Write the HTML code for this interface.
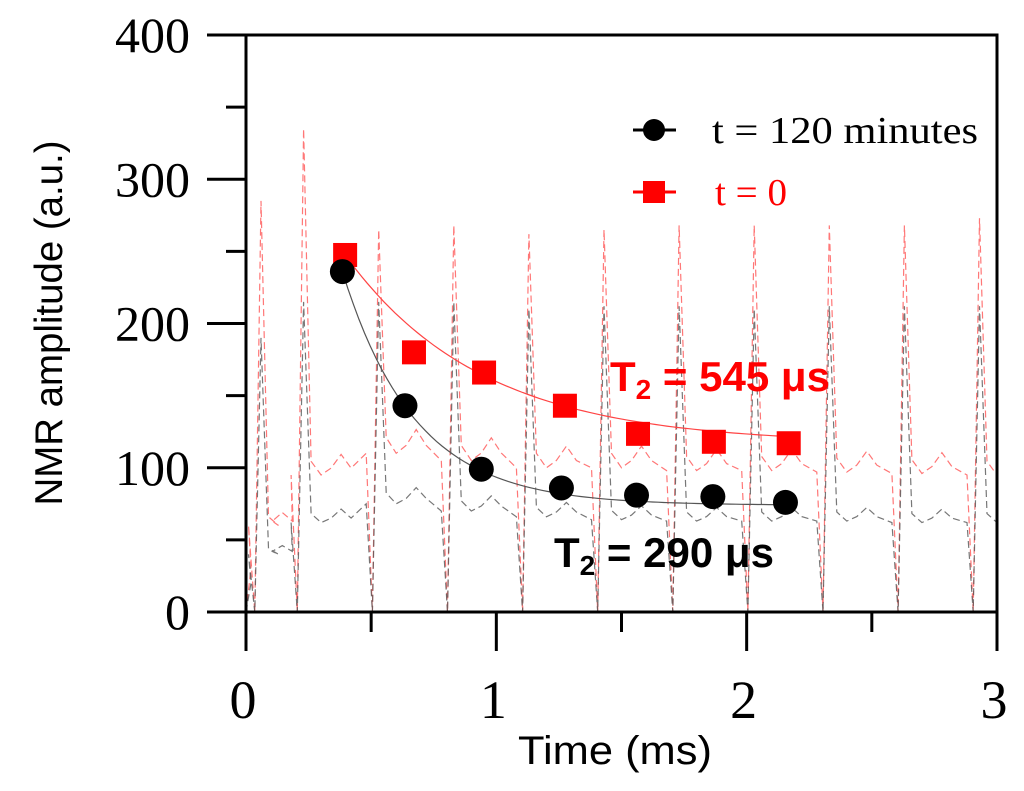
<!DOCTYPE html>
<html><head><meta charset="utf-8"><style>
body{margin:0;background:#fff;}
svg{display:block;}
</style></head><body>
<svg id="chart" width="1024" height="791" xmlns="http://www.w3.org/2000/svg">
<g id="echoes"></g>
<g id="fits"></g>
<g id="marks"></g>
<rect x="246" y="35" width="751" height="577" fill="none" stroke="#000" stroke-width="3"/>
<g id="axes"></g>
<text transform="translate(62,323) rotate(-90)" text-anchor="middle" font-family="Liberation Sans, sans-serif" font-size="39" textLength="365" lengthAdjust="spacingAndGlyphs">NMR amplitude (a.u.)</text>
<text x="615" y="764" text-anchor="middle" font-family="Liberation Sans, sans-serif" font-size="40" textLength="194" lengthAdjust="spacingAndGlyphs">Time (ms)</text>
<g>
<g>
<line x1="633" y1="130" x2="676" y2="130" stroke="#000" stroke-width="3"/>
<circle cx="654" cy="130" r="11" fill="#000"/>
<text x="712" y="143" font-family="Liberation Serif, serif" font-size="38" fill="#000" textLength="266" lengthAdjust="spacingAndGlyphs">t = 120 minutes</text>
</g>
<g>
<line x1="633" y1="192" x2="676" y2="192" stroke="#f00" stroke-width="3"/>
<rect x="643" y="181" width="22" height="22" fill="#f00"/>
<text x="715" y="205" font-family="Liberation Serif, serif" font-size="38" fill="#f00" textLength="72" lengthAdjust="spacingAndGlyphs">t = 0</text>
</g>
</g>
<text x="610" y="391" font-family="Liberation Sans, sans-serif" font-weight="bold" font-size="42" fill="#f00" textLength="220" lengthAdjust="spacingAndGlyphs">T<tspan font-size="28" dy="8">2</tspan><tspan dy="-8"> = 545 μs</tspan></text>
<text x="554" y="567" font-family="Liberation Sans, sans-serif" font-weight="bold" font-size="42" fill="#000" textLength="220" lengthAdjust="spacingAndGlyphs">T<tspan font-size="28" dy="8">2</tspan><tspan dy="-8"> = 290 μs</tspan></text>
</svg>
<script>
const xTicks=[0,1,2,3];
const yTicks=[0,100,200,300,400];
const redT=[0.396,0.671,0.951,1.274,1.566,1.869,2.168];
const redV=[247.5,180,166,143,123.5,118,117];
const blackT=[0.385,0.635,0.94,1.26,1.56,1.865,2.155];
const blackV=[236,143,99,86,81,80,76];
const spikeT=[0.06,0.23,0.53,0.83,1.13,1.43,1.73,2.03,2.33,2.63,2.93];
const redPeak=[285,335,265,268,262,265,268,268,268,268,273];
const blackPeak=[190,215,215,215,210,212,212,210,212,212,212];
const redBase=[60,95,110,105,100,100,98,98,97,96,95];
const blackBase=[40,62,75,70,66,64,63,63,63,62,62];
const redT2=0.545, blackT2=0.290;
const X=t=>246+t*250.33, Y=v=>612-v*1.4425;
const NS="http://www.w3.org/2000/svg";
function mk(tag,attrs,parent){const e=document.createElementNS(NS,tag);for(const k in attrs)e.setAttribute(k,attrs[k]);parent.appendChild(e);return e;}
const axes=document.getElementById('axes');
for(let v=0;v<=400;v+=50){const major=v%100===0;const t=mk('line',{x1:major?207:226,x2:246,y1:Y(v),y2:Y(v),stroke:'#000','stroke-width':3},axes);

}
for(let i=0;i<=6;i++){const t=i*0.5;const major=i%2===0;const l=mk('line',{x1:X(t),x2:X(t),y1:612,y2:major?651:632,stroke:'#000','stroke-width':3},axes);

}
yTicks.forEach(v=>{const e=mk('text',{x:190,y:Y(v)+17,'text-anchor':'end','font-family':'Liberation Serif, serif','font-size':50},axes);e.textContent=v;

});
xTicks.forEach(v=>{const e=mk('text',{x:X(v)-3,y:718,'text-anchor':'middle','font-family':'Liberation Serif, serif','font-size':54},axes);e.textContent=v;

});
const ech=document.getElementById('echoes');
function echoPath(peaks,base){let pts=[[0,0],[0.02,base[0]*0.5]];
for(let i=0;i<spikeT.length;i++){const s=spikeT[i];
pts.push([s-0.05,base[i]],[s-0.025,0],[s,peaks[i]],[s+0.03,base[i]*1.1],[s+0.07,base[i]]);
if(i<spikeT.length-1){const m=(s+spikeT[i+1])/2;pts.push([m-0.04,base[i]*1.05],[m,base[i]*1.15],[m+0.04,base[i]*1.05]);}}
pts.push([3,base[base.length-1]]);
return pts.filter(p=>p[0]>=0&&p[0]<=3).map((p,i)=>(i?'L':'M')+X(p[0]).toFixed(1)+' '+Y(p[1]).toFixed(1)).join('');}
const rp=mk('path',{d:echoPath(redPeak,redBase),fill:'none',stroke:'#f55','stroke-width':1.2,'stroke-dasharray':'7 4',opacity:0.8},ech);


const bp=mk('path',{d:echoPath(blackPeak,blackBase),fill:'none',stroke:'#555','stroke-width':1.2,'stroke-dasharray':'7 4',opacity:0.8},ech);


const fits=document.getElementById('fits');
function fitPath(T,V,T2){const n=T.length,c=V[n-1]-0.5*(V[n-2]-V[n-1]),A=(V[0]-c)*Math.exp(T[0]/T2);let d='';
for(let k=0;k<=80;k++){const t=T[0]+(T[n-1]-T[0])*k/80;d+=(k?'L':'M')+X(t).toFixed(1)+' '+Y(c+A*Math.exp(-t/T2)).toFixed(1);}return d;}
const rf=mk('path',{d:fitPath(redT,redV,redT2),fill:'none',stroke:'#f44','stroke-width':1.2},fits);


const bf=mk('path',{d:fitPath(blackT,blackV,blackT2),fill:'none',stroke:'#555','stroke-width':1.2},fits);


const marks=document.getElementById('marks');
redT.forEach((t,i)=>{const r=mk('rect',{x:X(t)-12,y:Y(redV[i])-12,width:24,height:24,fill:'#f00'},marks);

});
blackT.forEach((t,i)=>{const c=mk('circle',{cx:X(t),cy:Y(blackV[i]),r:12.5,fill:'#000'},marks);

});
</script>
</body></html>
